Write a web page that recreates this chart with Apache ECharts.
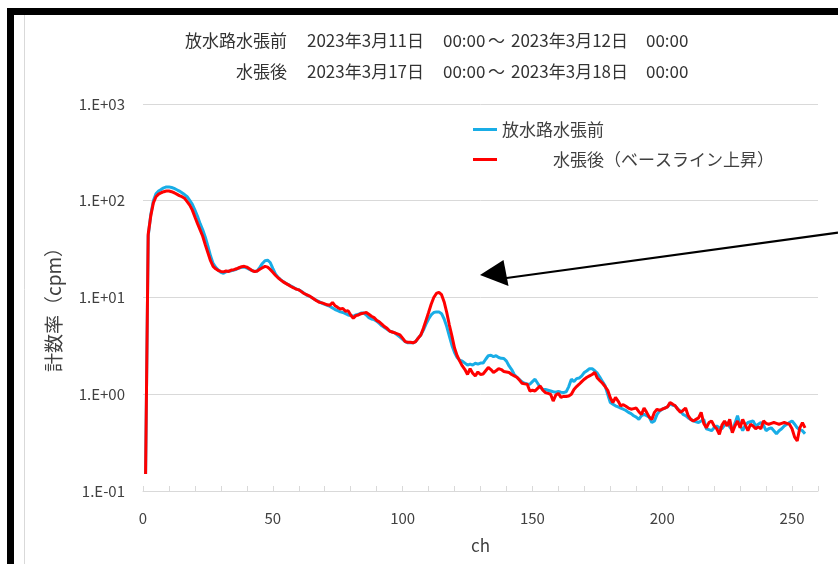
<!DOCTYPE html>
<html><head><meta charset="utf-8">
<script src="https://cdn.jsdelivr.net/npm/echarts@6/dist/echarts.min.js"></script>
<style>html,body{margin:0;padding:0;background:#fff}#c{width:838px;height:564px}</style>
</head><body><div id="c"></div>
<script>
const seriesNames = ['放水路水張前', '水張後（ベースライン上昇）'];
const xTickLabels = ['0', '50', '100', '150', '200', '250'];
const yTickLabels = ['1.E-01', '1.E+00', '1.E+01', '1.E+02', '1.E+03'];
const titleLine1 = ['放水路水張前', '2023年3月11日', '00:00', '～', '2023年3月12日', '00:00'];
const titleLine2 = ['水張後', '2023年3月17日', '00:00', '～', '2023年3月18日', '00:00'];
const firstChannel = 1;

// 放水路水張前 (ch 1..255)
const before = [
0.15,43,72,100,118,126,131,136,139,139,137,134,130,126,121,116,110,101,92,80,
69,58,50,42,34,27,22.5,20.5,19.2,18.2,17.8,18.5,18.7,18.9,19.2,19.6,20.2,20.5,20.6,20.2,
19.5,19.0,18.6,18.8,20.5,22.5,24,24.3,23,20,17.5,16.2,15.3,14.6,14,13.6,13.1,12.7,12.3,12,
11.6,11.1,10.6,10.3,10,9.6,9.3,9,8.7,8.5,8.3,8.1,7.8,7.5,7.3,7.1,7.0,6.8,6.6,6.5,
6.4,6.6,6.7,6.9,6.9,6.6,6.2,6.0,5.9,5.7,5.4,5.1,4.9,4.7,4.5,4.4,4.3,4.1,3.9,3.7,
3.5,3.4,3.4,3.4,3.5,3.8,4.1,4.6,5.3,6.0,6.6,7.0,7.1,7.1,6.8,6.0,5.0,4.0,3.2,2.7,
2.4,2.25,2.2,2.1,2.0,2.05,2.0,2.09,2.05,2.1,2.1,2.3,2.5,2.53,2.45,2.5,2.4,2.35,2.34,2.2,
1.96,1.8,1.6,1.5,1.42,1.34,1.3,1.28,1.27,1.35,1.43,1.3,1.18,1.13,1.12,1.1,1.08,1.06,1.05,1.07,
1.05,1.04,1.06,1.2,1.43,1.35,1.45,1.47,1.55,1.68,1.75,1.84,1.84,1.75,1.65,1.5,1.35,1.22,1.0,0.82,
0.79,0.76,0.74,0.72,0.70,0.68,0.65,0.63,0.6,0.58,0.55,0.6,0.62,0.60,0.58,0.51,0.53,0.62,0.67,0.70,
0.72,0.74,0.79,0.77,0.76,0.70,0.67,0.62,0.60,0.57,0.55,0.53,0.52,0.51,0.53,0.55,0.44,0.43,0.42,0.45,
0.47,0.45,0.44,0.48,0.51,0.46,0.42,0.5,0.60,0.48,0.42,0.48,0.51,0.52,0.53,0.47,0.49,0.51,0.48,0.42,
0.44,0.45,0.42,0.39,0.42,0.44,0.47,0.49,0.51,0.53,0.49,0.45,0.43,0.42,0.39
];

// 水張後 (ch 1..255)
const after = [
0.15,45,70,95,110,117,121,124,126,126,124,121,117,113,110,106,98,90,80,68,
58,50,43,35,29,24,21,19.8,19,18.6,18.4,18.8,18.6,19.2,19.4,19.8,20.3,20.8,21.0,20.6,
19.8,19.0,18.5,18.8,19.6,20.3,21,20.6,19.5,18.2,17,16,15.2,14.5,14,13.5,13,12.6,12.2,12,
11.5,11,10.7,10.4,10,9.6,9.2,8.9,8.8,8.6,8.4,8.3,8.9,8.2,7.9,7.6,7.7,7.2,7.3,6.6,
6.1,6.5,6.6,6.8,6.9,7.0,6.7,6.4,6.2,5.8,5.6,5.3,5.0,4.8,4.5,4.4,4.3,4.2,4.1,3.8,
3.5,3.45,3.45,3.4,3.5,3.8,4.1,4.8,5.8,7.0,8.5,10,11,11.3,10.7,9,7,5.2,4.0,3.0,
2.5,2.2,1.96,1.8,1.6,1.84,1.65,1.55,1.7,1.6,1.62,1.75,1.89,1.8,1.68,1.75,1.84,1.8,1.72,1.7,
1.68,1.6,1.55,1.5,1.4,1.3,1.28,1.27,1.08,1.1,1.08,1.15,1.22,1.1,1.04,1.02,1.0,0.85,0.98,1.02,
0.93,0.95,0.95,0.96,1.0,1.12,1.2,1.27,1.35,1.43,1.5,1.55,1.6,1.68,1.47,1.38,1.3,1.2,1.1,0.92,
0.82,0.93,0.85,0.76,0.78,0.75,0.72,0.7,0.71,0.72,0.66,0.62,0.72,0.65,0.58,0.55,0.65,0.70,0.68,0.70,
0.72,0.74,0.82,0.79,0.76,0.70,0.65,0.68,0.72,0.60,0.55,0.53,0.55,0.57,0.65,0.50,0.45,0.51,0.53,0.47,
0.44,0.386,0.48,0.53,0.47,0.55,0.40,0.47,0.53,0.45,0.55,0.48,0.42,0.49,0.47,0.44,0.46,0.44,0.53,0.50,
0.49,0.50,0.51,0.50,0.49,0.50,0.51,0.50,0.49,0.44,0.36,0.33,0.45,0.51,0.45
];

const FONT = '"Noto Sans CJK JP", "Noto Sans", sans-serif';
const TXT = '#404040';
const chart = echarts.init(document.getElementById('c'), null, {renderer: 'canvas'});

function t(text, x, y, align, size) {
  return {type: 'text', x: x, y: y, z: 10,
    style: {text: text, fill: '#333', font: (size || 17) + 'px ' + FONT, textAlign: align || 'left', textVerticalAlign: 'middle'}};
}

chart.setOption({
  animation: false,
  backgroundColor: '#fff',
  grid: {left: 143, right: 20, top: 104, bottom: 73},
  legend: {
    orient: 'vertical', left: 473, top: 121, itemGap: 13, padding: 0,
    itemWidth: 24, itemHeight: 3, icon: 'rect',
    data: seriesNames,
    formatter: function (n) { return n === seriesNames[1] ? '{p|}' + n : n; },
    textStyle: {fontFamily: FONT, fontSize: 17, color: TXT, rich: {p: {width: 51}}}
  },
  xAxis: {
    type: 'value', min: 0, max: 260, interval: 10,
    axisLine: {show: true, lineStyle: {color: '#d9d9d9', width: 1}},
    axisTick: {show: true, inside: true, length: 5, lineStyle: {color: '#d9d9d9'}},
    axisLabel: {margin: 20, fontFamily: FONT, fontSize: 15, color: TXT,
      formatter: function (v) { return v % 50 === 0 ? xTickLabels[v / 50] : ''; }},
    splitLine: {show: false},
    name: 'ch', nameLocation: 'middle', nameGap: 46,
    nameTextStyle: {fontFamily: FONT, fontSize: 17, color: TXT}
  },
  yAxis: {
    type: 'log', logBase: 10, min: 0.1, max: 1000,
    axisLine: {show: false}, axisTick: {show: false},
    axisLabel: {margin: 18, fontFamily: FONT, fontSize: 15, color: TXT,
      formatter: function (v) { const i = Math.round(Math.log10(v)) + 1; return yTickLabels[i] || ''; }},
    splitLine: {show: true, lineStyle: {color: '#d9d9d9', width: 1}}
  },
  series: [
    {name: seriesNames[0], type: 'line', showSymbol: false, color: '#19ADE6',
      lineStyle: {width: 3, color: '#19ADE6'}, z: 2,
      data: before.map(function (v, i) { return [i + firstChannel, v]; })},
    {name: seriesNames[1], type: 'line', showSymbol: false, color: '#FF0000',
      lineStyle: {width: 3, color: '#FF0000'}, z: 3,
      data: after.map(function (v, i) { return [i + firstChannel, v]; })}
  ],
  graphic: [
    {type: 'rect', shape: {x: 7, y: 8, width: 7, height: 556}, style: {fill: '#000'}, z: 20},
    {type: 'rect', shape: {x: 7, y: 8, width: 831, height: 7}, style: {fill: '#000'}, z: 20},
    {type: 'line', shape: {x1: 24.5, y1: 15, x2: 24.5, y2: 564}, style: {stroke: '#d9d9d9', lineWidth: 1}, z: 5},
    t(titleLine1[0], 287, 41, 'right'),
    t(titleLine1[1], 307, 41),
    t(titleLine1[2], 443, 41),
    t(titleLine1[3], 488, 41),
    t(titleLine1[4], 511, 41),
    t(titleLine1[5], 646, 41),
    t(titleLine2[0], 287, 72, 'right'),
    t(titleLine2[1], 307, 72),
    t(titleLine2[2], 443, 72),
    t(titleLine2[3], 488, 72),
    t(titleLine2[4], 511, 72),
    t(titleLine2[5], 646, 72),
    {type: 'text', x: 54, y: 305, rotation: Math.PI / 2, z: 10,
      style: {text: '計数率（cpm）', fill: TXT, font: '19px ' + FONT, textAlign: 'center', textVerticalAlign: 'middle'}},
    {type: 'line', shape: {x1: 838, y1: 232.7, x2: 503, y2: 278.5}, style: {stroke: '#000', lineWidth: 2.2}, z: 15},
    {type: 'polygon', shape: {points: [[480, 275], [503.5, 260], [508.5, 286]]}, style: {fill: '#000'}, z: 15}
  ]
});
</script></body></html>
